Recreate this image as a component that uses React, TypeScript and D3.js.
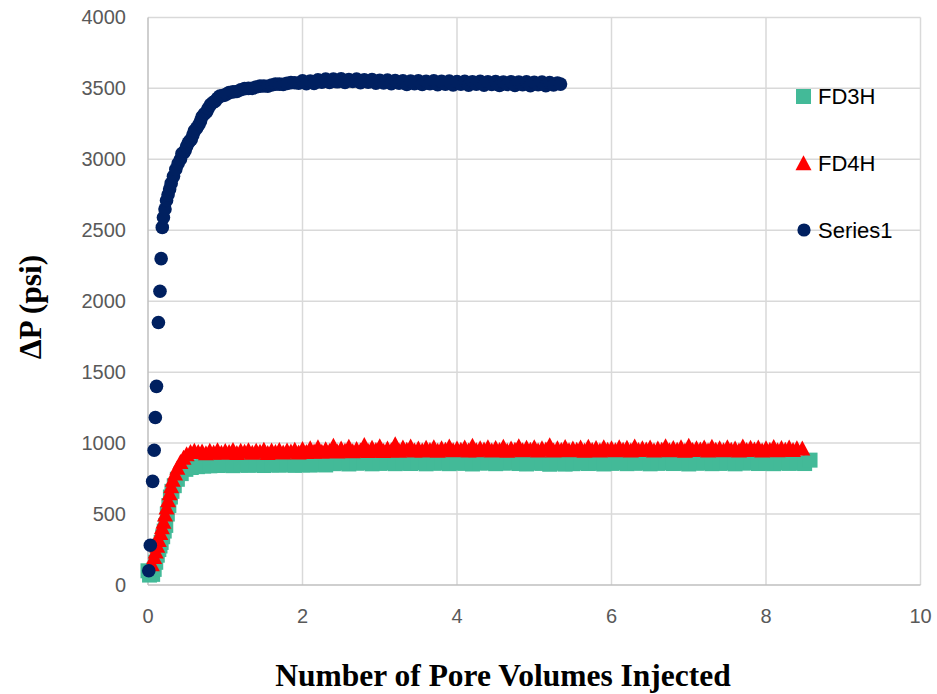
import React from "react";
import * as d3 from "d3";

const xTicks = [0, 2, 4, 6, 8, 10];
const yTicks = [0, 500, 1000, 1500, 2000, 2500, 3000, 3500, 4000];
const seriesNames = ["FD3H", "FD4H", "Series1"];
const xTitle = "Number of Pore Volumes Injected";
const yTitle = "ΔP (psi)";

const fd3hPoints: [number, number][] = [
  [0.0, 100], [0.02, 70], [0.04, 90], [0.06, 75], [0.08, 110], [0.1, 160], [0.12, 210], [0.14, 250],
  [0.155, 275], [0.17, 300], [0.19, 340], [0.21, 380], [0.23, 420], [0.25, 500], [0.27, 560], [0.29, 620],
  [0.31, 660], [0.34, 700], [0.38, 745], [0.43, 785], [0.49, 815], [0.56, 828], [0.64, 834], [0.72, 838],
  [0.8, 840], [0.9, 842],
  [1.0, 844], [1.1, 841], [1.2, 846], [1.3, 843], [1.4, 848], [1.5, 842], [1.6, 847], [1.7, 844],
  [1.8, 849], [1.9, 843], [2.0, 847], [2.1, 845], [2.2, 850], [2.3, 846],
  [2.4, 855], [2.5, 860], [2.6, 853], [2.7, 858], [2.8, 862], [2.9, 854], [3.0, 857], [3.1, 861],
  [3.2, 855], [3.3, 859], [3.4, 856], [3.5, 863], [3.6, 854], [3.7, 858], [3.8, 860], [3.9, 855],
  [4.0, 862], [4.1, 857], [4.2, 853], [4.3, 859], [4.4, 861], [4.5, 855], [4.6, 858], [4.7, 864],
  [4.8, 856], [4.9, 853], [5.0, 860], [5.1, 857], [5.2, 851], [5.3, 858], [5.4, 852], [5.5, 855],
  [5.6, 861], [5.7, 856], [5.8, 859], [5.9, 853], [6.0, 857], [6.1, 863], [6.2, 855], [6.3, 858],
  [6.4, 860], [6.5, 854], [6.6, 857], [6.7, 862], [6.8, 856], [6.9, 859], [7.0, 853], [7.1, 858],
  [7.2, 861], [7.3, 855], [7.4, 857], [7.5, 860], [7.6, 854], [7.7, 859], [7.8, 862], [7.9, 856],
  [8.0, 858], [8.1, 855], [8.2, 861], [8.3, 857], [8.4, 860], [8.5, 856], [8.57, 880],
];

const fd4hPoints: [number, number][] = [
  [0.05, 150], [0.08, 200], [0.1, 240], [0.12, 280], [0.14, 320], [0.16, 370], [0.18, 410], [0.2, 450],
  [0.22, 500], [0.24, 550], [0.26, 600], [0.28, 650], [0.3, 700], [0.32, 745], [0.35, 790], [0.38, 830],
  [0.42, 870], [0.46, 900], [0.5, 925], [0.55, 940], [0.6, 950], [0.65, 940],
  [0.7, 945], [0.75, 932], [0.8, 950], [0.85, 938], [0.9, 953], [0.95, 935], [1.0, 948], [1.05, 940],
  [1.1, 955], [1.15, 933], [1.2, 950], [1.25, 942], [1.3, 954], [1.35, 936], [1.4, 949], [1.45, 943],
  [1.5, 956], [1.55, 934], [1.6, 951], [1.65, 940], [1.7, 955], [1.75, 937], [1.8, 952], [1.85, 944],
  [1.9, 957], [1.95, 938],
  [2.0, 962], [2.05, 940], [2.1, 968], [2.15, 945], [2.2, 975], [2.25, 942], [2.3, 960], [2.35, 948],
  [2.4, 985], [2.45, 944], [2.5, 966], [2.55, 950], [2.6, 978], [2.65, 946], [2.7, 962], [2.75, 952],
  [2.8, 990], [2.85, 948], [2.9, 970], [2.95, 955], [3.0, 982], [3.05, 947], [3.1, 965], [3.15, 953],
  [3.2, 995], [3.25, 950], [3.3, 972], [3.35, 956], [3.4, 980], [3.45, 951],
  [3.5, 966], [3.55, 952], [3.6, 970], [3.65, 955], [3.7, 975], [3.75, 950], [3.8, 968], [3.85, 957],
  [3.9, 980], [3.95, 953], [4.0, 966], [4.05, 956], [4.1, 972], [4.15, 951], [4.2, 985], [4.25, 954],
  [4.3, 967], [4.35, 958], [4.4, 975], [4.45, 952], [4.5, 969], [4.55, 955], [4.6, 978], [4.65, 950],
  [4.7, 965], [4.75, 957], [4.8, 982], [4.85, 953], [4.9, 970], [4.95, 956], [5.0, 974], [5.05, 951],
  [5.1, 967], [5.15, 958], [5.2, 988], [5.25, 952], [5.3, 968], [5.35, 955], [5.4, 976], [5.45, 953],
  [5.5, 966], [5.55, 957], [5.6, 972], [5.65, 950], [5.7, 978], [5.75, 955], [5.8, 969], [5.85, 952],
  [5.9, 974], [5.95, 956], [6.0, 967], [6.05, 953], [6.1, 975], [6.15, 957], [6.2, 970], [6.25, 951],
  [6.3, 980], [6.35, 955], [6.4, 968], [6.45, 958], [6.5, 973], [6.55, 952], [6.6, 966], [6.65, 956],
  [6.7, 982], [6.75, 953], [6.8, 969], [6.85, 957], [6.9, 975], [6.95, 950], [7.0, 985], [7.05, 955],
  [7.1, 967], [7.15, 958], [7.2, 972], [7.25, 952], [7.3, 978], [7.35, 956], [7.4, 968], [7.45, 953],
  [7.5, 974], [7.55, 957], [7.6, 966], [7.65, 951], [7.7, 980], [7.75, 955], [7.8, 970], [7.85, 958],
  [7.9, 973], [7.95, 952], [8.0, 968], [8.05, 956], [8.1, 976], [8.15, 953], [8.2, 969], [8.25, 957],
  [8.3, 972], [8.35, 955], [8.4, 968], [8.47, 965],
];

const series1Points: [number, number][] = [
  [0.01, 100], [0.03, 280], [0.06, 730], [0.08, 950], [0.095, 1180], [0.11, 1400], [0.135, 1850],
  [0.155, 2070], [0.17, 2300], [0.185, 2520],
  [0.2, 2590], [0.22, 2650], [0.24, 2710], [0.26, 2750], [0.28, 2790], [0.3, 2830], [0.33, 2880],
  [0.36, 2930], [0.39, 2970], [0.42, 3000], [0.44, 3040], [0.46, 3045], [0.48, 3060], [0.5, 3090],
  [0.52, 3115], [0.54, 3130], [0.56, 3140], [0.58, 3170], [0.6, 3200], [0.63, 3220], [0.66, 3245],
  [0.68, 3270], [0.7, 3300], [0.73, 3320], [0.76, 3335], [0.78, 3360], [0.81, 3385], [0.84, 3400],
  [0.87, 3410], [0.9, 3430], [0.93, 3445], [0.96, 3448], [0.99, 3452], [1.02, 3460], [1.05, 3470],
  [1.1, 3475], [1.15, 3478], [1.2, 3490], [1.25, 3498], [1.3, 3500], [1.35, 3500], [1.4, 3510],
  [1.45, 3516], [1.5, 3517], [1.55, 3515], [1.6, 3524], [1.65, 3530], [1.7, 3530], [1.75, 3528],
  [1.8, 3535], [1.85, 3540], [1.9, 3539], [1.95, 3536],
  [2.0, 3553], [2.05, 3532], [2.1, 3551], [2.15, 3534], [2.2, 3561], [2.25, 3543], [2.3, 3566],
  [2.35, 3541], [2.4, 3565], [2.45, 3546], [2.5, 3568], [2.55, 3542], [2.6, 3562], [2.65, 3548],
  [2.7, 3566], [2.75, 3540], [2.8, 3560], [2.85, 3544], [2.9, 3562], [2.95, 3536], [3.0, 3557],
  [3.05, 3538], [3.1, 3558], [3.15, 3532], [3.2, 3555], [3.25, 3536], [3.3, 3553], [3.35, 3528],
  [3.4, 3552], [3.45, 3533], [3.5, 3554], [3.55, 3527], [3.6, 3550], [3.65, 3532], [3.7, 3553],
  [3.75, 3526], [3.8, 3549], [3.85, 3530], [3.9, 3552], [3.95, 3524], [4.0, 3548], [4.05, 3529],
  [4.1, 3550], [4.15, 3523], [4.2, 3547], [4.25, 3530], [4.3, 3549], [4.35, 3522], [4.4, 3546],
  [4.45, 3528], [4.5, 3548], [4.55, 3521], [4.6, 3545], [4.65, 3527], [4.7, 3547], [4.75, 3520],
  [4.8, 3544], [4.85, 3526], [4.9, 3546], [4.95, 3519], [5.0, 3543], [5.05, 3525], [5.1, 3545],
  [5.15, 3519], [5.2, 3540], [5.25, 3524], [5.3, 3538], [5.34, 3530],
];

const W = 937;
const H = 694;
const left = 148;
const right = 920.5;
const top = 17.4;
const bottom = 585;

const colors = { fd3h: "#43BA98", fd4h: "#FF0000", s1: "#002060" };
const SQ = 15;
const R = 6.8;
const triPath = "M0,-7.5L8,7.5L-8,7.5Z";

export default function App() {
  const x = d3.scaleLinear().domain([0, 10]).range([left, right]);
  const y = d3.scaleLinear().domain([0, 4000]).range([bottom, top]);
  const tickFont = "'Liberation Sans', Arial, sans-serif";
  const serif = "'Liberation Serif', 'Times New Roman', serif";

  return (
    <svg
      width={W}
      height={H}
      style={{ position: "absolute", left: 0, top: 0, background: "#fff" }}
    >
      <rect x={0} y={0} width={W} height={H} fill="#fff" />
      {yTicks.filter((t) => t > 0).map((t) => (
        <line key={"gy" + t} x1={left} x2={right} y1={y(t)} y2={y(t)} stroke="#D9D9D9" strokeWidth={1.5} />
      ))}
      {xTicks.filter((t) => t > 0).map((t) => (
        <line key={"gx" + t} x1={x(t)} x2={x(t)} y1={top} y2={bottom} stroke="#D9D9D9" strokeWidth={1.5} />
      ))}
      <line x1={left} x2={left} y1={top} y2={bottom} stroke="#BFBFBF" strokeWidth={1.5} />
      <line x1={left} x2={right} y1={bottom} y2={bottom} stroke="#BFBFBF" strokeWidth={1.5} />

      {yTicks.map((t) => (
        <text key={"ty" + t} x={126} y={y(t) + 7} textAnchor="end" fontFamily={tickFont} fontSize={20} fill="#595959">
          {t}
        </text>
      ))}
      {xTicks.map((t) => (
        <text key={"tx" + t} x={x(t)} y={623} textAnchor="middle" fontFamily={tickFont} fontSize={20} fill="#595959">
          {t}
        </text>
      ))}

      {fd3hPoints.map(([a, b], i) => (
        <rect key={"s" + i} x={x(a) - SQ / 2} y={y(b) - SQ / 2} width={SQ} height={SQ} fill={colors.fd3h} />
      ))}
      {fd4hPoints.map(([a, b], i) => (
        <path key={"t" + i} d={triPath} transform={`translate(${x(a)},${y(b)})`} fill={colors.fd4h} />
      ))}
      {series1Points.map(([a, b], i) => (
        <circle key={"c" + i} cx={x(a)} cy={y(b)} r={R} fill={colors.s1} />
      ))}

      <rect x={803.5 - SQ / 2} y={96.5 - SQ / 2} width={SQ} height={SQ} fill={colors.fd3h} />
      <text x={818} y={104} fontFamily={tickFont} fontSize={22} fill="#000">{seriesNames[0]}</text>
      <path d={triPath} transform="translate(803.5,162.8)" fill={colors.fd4h} />
      <text x={818} y={170.5} fontFamily={tickFont} fontSize={22} fill="#000">{seriesNames[1]}</text>
      <circle cx={804} cy={230} r={6.6} fill={colors.s1} />
      <text x={818} y={237.5} fontFamily={tickFont} fontSize={22} fill="#000">{seriesNames[2]}</text>

      <text x={503} y={686} textAnchor="middle" fontFamily={serif} fontWeight="bold" fontSize={31.5} fill="#000">
        {xTitle}
      </text>
      <text
        transform="translate(41,307) rotate(-90)"
        textAnchor="middle"
        fontFamily={serif}
        fontWeight="bold"
        fontSize={31.5}
        fill="#000"
      >
        {yTitle}
      </text>
    </svg>
  );
}
